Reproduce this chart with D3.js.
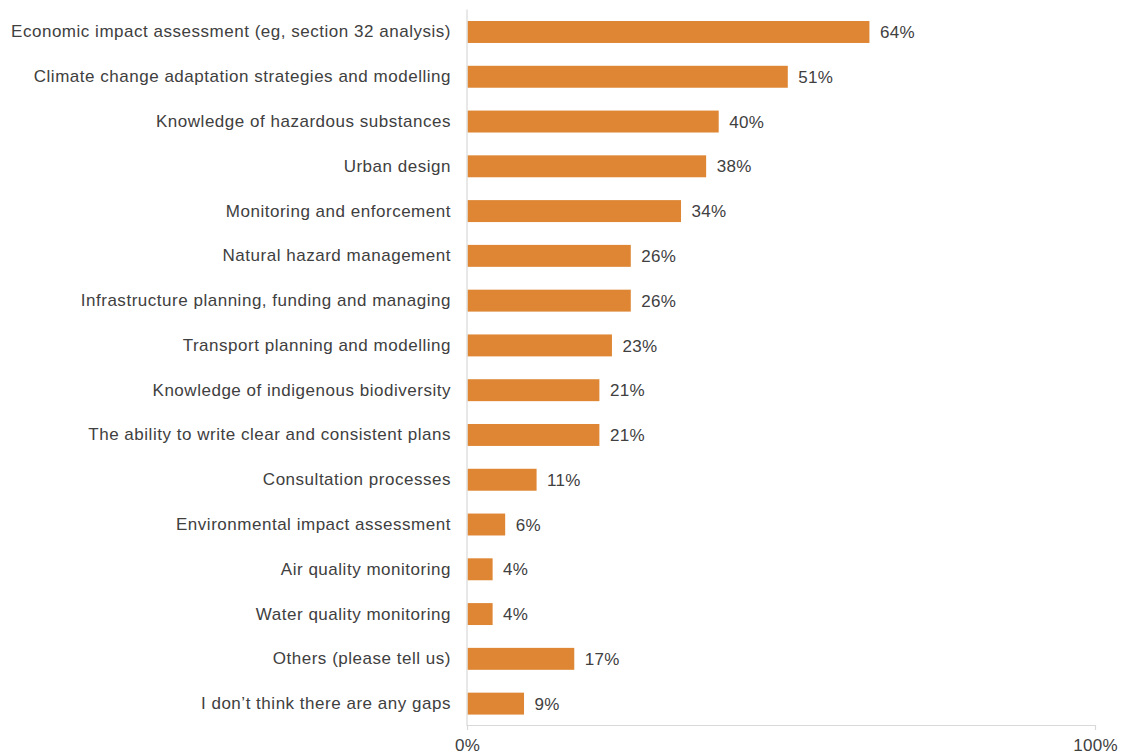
<!DOCTYPE html>
<html>
<head>
<meta charset="utf-8">
<script src="https://cdn.jsdelivr.net/npm/d3@7"></script>
<style>
  html, body { margin: 0; padding: 0; background: #fff; }
  svg { display: block; font-family: "Liberation Sans", Arial, sans-serif; }
</style>
</head>
<body>
<svg id="chart" width="1128" height="756"></svg>
<script>
// Skills gaps reported, share of respondents
const categories = [
  "Economic impact assessment (eg, section 32 analysis)",
  "Climate change adaptation strategies and modelling",
  "Knowledge of hazardous substances",
  "Urban design",
  "Monitoring and enforcement",
  "Natural hazard management",
  "Infrastructure planning, funding and managing",
  "Transport planning and modelling",
  "Knowledge of indigenous biodiversity",
  "The ability to write clear and consistent plans",
  "Consultation processes",
  "Environmental impact assessment",
  "Air quality monitoring",
  "Water quality monitoring",
  "Others (please tell us)",
  "I don\u2019t think there are any gaps"
];
const values = [64, 51, 40, 38, 34, 26, 26, 23, 21, 21, 11, 6, 4, 4, 17, 9];
const tickValues = [0, 100];

const svg = d3.select("#chart");
const x0 = 467, x1 = 1095, yTop = 9.6, yBottom = 726;
const fontFamily = "'Liberation Sans', Arial, sans-serif";
const textColor = "#404040";

const x = d3.scaleLinear().domain([0, 100]).range([x0, x1]);
const y = d3.scaleBand().domain(categories).range([yTop, yBottom]).paddingInner(0.51).paddingOuter(0.255);

const rows = categories.map((c, i) => ({ c, v: values[i] }));

// bars
svg.append("g").selectAll("rect").data(rows).join("rect")
  .attr("x", x(0) + 0.5)
  .attr("y", d => y(d.c))
  .attr("width", d => x(d.v) - x(0))
  .attr("height", y.bandwidth())
  .attr("fill", "#DE8633");

// value labels
svg.append("g").selectAll("text").data(rows).join("text")
  .attr("x", d => x(d.v) + 11)
  .attr("y", d => y(d.c) + y.bandwidth() / 2)
  .attr("dy", "0.36em")
  .attr("font-size", 17)
  .attr("letter-spacing", "0.3px")
  .attr("fill", textColor)
  .text(d => d.v + "%");

// category axis
const yAxis = svg.append("g")
  .attr("transform", `translate(${x0},0)`)
  .call(d3.axisLeft(y).tickSize(0).tickPadding(16));
yAxis.select(".domain").attr("stroke", "#d9d9d9").attr("stroke-width", 1.2)
  .attr("d", `M0,${yTop}V${yBottom}`);
yAxis.selectAll("text").attr("font-size", 17).attr("fill", textColor)
  .attr("letter-spacing", "0.52px")
  .attr("font-family", fontFamily);

// value axis
const xAxis = svg.append("g")
  .attr("transform", `translate(0,${yBottom - 1})`)
  .call(d3.axisBottom(x).tickValues(tickValues).tickFormat(d => d + "%").tickSize(5).tickSizeOuter(0).tickPadding(9));
xAxis.select(".domain").attr("stroke", "#d9d9d9").attr("stroke-width", 1.2);
xAxis.selectAll(".tick line").attr("stroke", "#d9d9d9").attr("stroke-width", 1.2);
xAxis.selectAll("text").attr("font-size", 17).attr("fill", textColor)
  .attr("letter-spacing", "0.3px")
  .attr("font-family", fontFamily);
</script>
</body>
</html>
